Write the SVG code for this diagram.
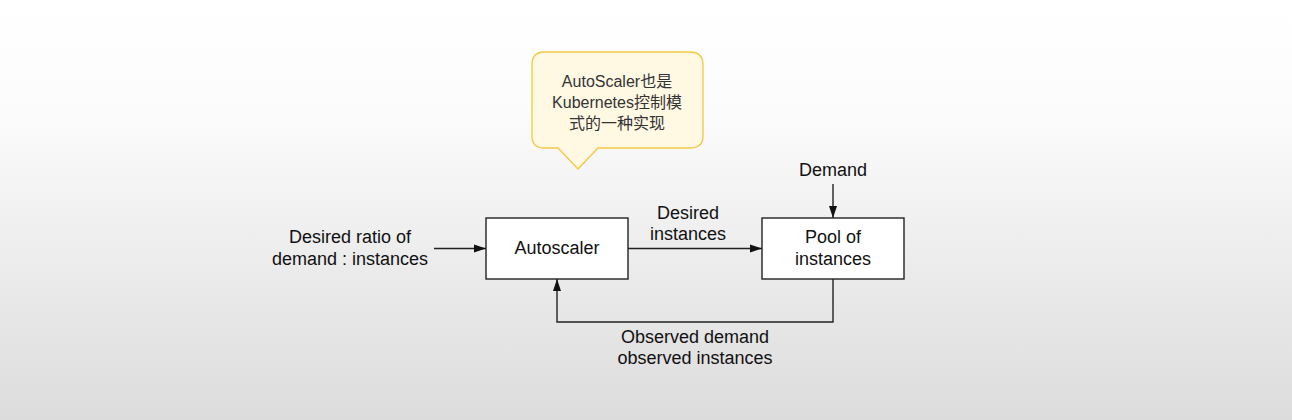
<svg xmlns="http://www.w3.org/2000/svg" width="1292" height="420" viewBox="0 0 1292 420">
<defs>
<linearGradient id="bg" x1="0" y1="0" x2="0" y2="1">
<stop offset="0" stop-color="#ffffff"/>
<stop offset="0.25" stop-color="#fcfcfc"/>
<stop offset="1" stop-color="#dcdcdc"/>
</linearGradient>
<marker id="arr" markerWidth="12" markerHeight="10" refX="12" refY="5" orient="auto" markerUnits="userSpaceOnUse">
<path d="M0,1 L12,5 L0,9 Z" fill="#111"/>
</marker>
<style>
.box{fill:#fff;stroke:#222;stroke-width:1.4}
.t{font-family:"Liberation Sans",Arial,sans-serif;font-size:18px;fill:#111;text-anchor:middle}
.c{font-family:"Liberation Sans","Noto Sans CJK SC",sans-serif;font-size:16px;fill:#333;text-anchor:middle}
.ln{fill:none;stroke:#222;stroke-width:1.4}
</style>
</defs>
<rect width="1292" height="420" fill="url(#bg)"/>
<g id="callout">
<path d="M544,52 H690 Q703,52 703,65 V136 Q703,148 690,148 H598 L578,169 L558,148 H544 Q532,148 532,136 V65 Q532,52 544,52 Z" fill="#fff8e3" stroke="#f5c842" stroke-width="1.3"/>
<text class="c" x="617" y="87">AutoScaler也是</text>
<text class="c" x="617" y="108">Kubernetes控制模</text>
<text class="c" x="617" y="129">式的一种实现</text>
</g>
<g id="input-label">
<text class="t" x="350" y="243">Desired ratio of</text>
<text class="t" x="350" y="265">demand : instances</text>
</g>
<g id="autoscaler">
<rect class="box" x="486" y="218" width="142" height="61"/>
<text class="t" x="557" y="254">Autoscaler</text>
</g>
<g id="pool">
<rect class="box" x="762" y="218" width="142" height="61"/>
<text class="t" x="833" y="243">Pool of</text>
<text class="t" x="833" y="265">instances</text>
</g>
<g id="demand-label">
<text class="t" x="833" y="176">Demand</text>
</g>
<g id="connectors">
<line class="ln" x1="434" y1="248.5" x2="486" y2="248.5" marker-end="url(#arr)"/>
<line class="ln" x1="628" y1="248.5" x2="762" y2="248.5" marker-end="url(#arr)"/>
<line class="ln" x1="833" y1="184" x2="833" y2="218" marker-end="url(#arr)"/>
<polyline class="ln" points="833,279 833,322 557,322 557,279" marker-end="url(#arr)"/>
<text class="t" x="688" y="219">Desired</text>
<text class="t" x="688" y="240">instances</text>
<text class="t" x="695" y="343">Observed demand</text>
<text class="t" x="695" y="364">observed instances</text>
</g>
</svg>
